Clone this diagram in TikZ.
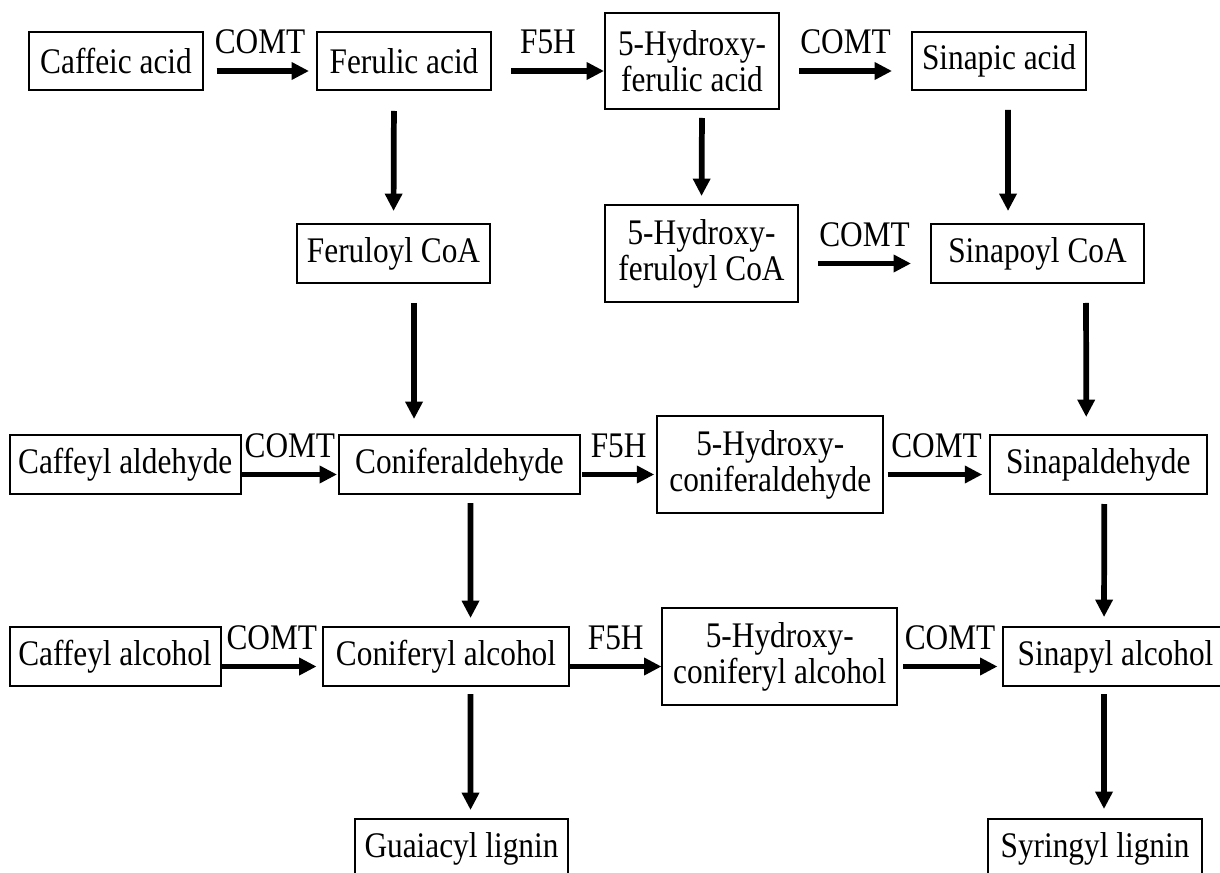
\documentclass[tikz,border=0pt]{standalone}
\usepackage{fontspec}
\setmainfont{Liberation Serif}[FakeStretch=0.87]
\usetikzlibrary{arrows.meta}

\tikzset{
  box/.style n args={2}{draw, line width=1.5pt, inner sep=0pt, align=center,
    minimum width=#1, minimum height=#2, font=\fontsize{27}{27}\selectfont},
  arr/.style={line width=4.3pt, -{Triangle[length=13pt,width=12.5pt]}},
  lbl/.style={midway, anchor=base, yshift=13pt, inner sep=0pt, font=\fontsize{27}{27}\selectfont}
}

\begin{document}
\begin{tikzpicture}[x=0.75pt,y=0.75pt,yscale=-1,xscale=1]
\useasboundingbox (0,0) rectangle (1220,873);

% Acids
\node[box={130.5pt}{43.5pt}] (caffacid) at (116,61) {Caffeic acid};
\node[box={130.5pt}{43.5pt}] (ferulic) at (404,61) {Ferulic acid};
\node[box={130.5pt}{72pt}] (hferulic) at (692,61) {5-Hydroxy-\\ferulic acid};
\node[box={130.5pt}{43.5pt}] (sinapic) at (999,61) {Sinapic acid};

% CoA esters
\node[box={144.75pt}{44.25pt}] (feruloyl) at (393.5,253.5) {Feruloyl CoA};
\node[box={144.75pt}{72.75pt}] (hferuloyl) at (701.5,253.5) {5-Hydroxy-\\feruloyl CoA};
\node[box={159.75pt}{44.25pt}] (sinapoyl) at (1037.5,253.5) {Sinapoyl CoA};

% Aldehydes
\node[box={173.25pt}{44.25pt}] (caffald) at (125.25,464.5) {Caffeyl aldehyde};
\node[box={180.75pt}{44.25pt}] (conald) at (459.5,464.5) {Coniferaldehyde};
\node[box={169.5pt}{72.75pt}] (hconald) at (770.25,464.5) {5-Hydroxy-\\coniferaldehyde};
\node[box={162.75pt}{44.25pt}] (sinald) at (1098.25,464.5) {Sinapaldehyde};

% Alcohols
\node[box={158.25pt}{44.25pt}] (caffalc) at (115,656.5) {Caffeyl alcohol};
\node[box={184.5pt}{44.25pt}] (conalc) at (446,656.5) {Coniferyl alcohol};
\node[box={175.9pt}{72.75pt}] (hconalc) at (779.75,656.5) {5-Hydroxy-\\coniferyl alcohol};
\node[box={168.75pt}{44.25pt}] (sinalc) at (1115.5,656.5) {Sinapyl alcohol};

% Lignins
\node[box={159.75pt}{44.25pt}] (guaiacyl) at (461.5,848.5) {Guaiacyl lignin};
\node[box={160.5pt}{44.25pt}] (syringyl) at (1095,848.5) {Syringyl lignin};

% Horizontal arrows
\draw[arr, shorten <=9.4pt, shorten >=5.25pt] ([yshift=7.5pt]caffacid.east) -- ([yshift=7.5pt]ferulic.west) node[lbl] {COMT};
\draw[arr, shorten <=14.25pt] ([yshift=7.5pt]ferulic.east) -- ([yshift=7.5pt]hferulic.west) node[lbl] {F5H};
\draw[arr, shorten <=14.25pt, shorten >=14.25pt] ([yshift=7.5pt]hferulic.east) -- ([yshift=7.5pt]sinapic.west) node[lbl] {COMT};
\draw[arr, shorten <=14.25pt, shorten >=14.25pt] ([yshift=7.5pt]hferuloyl.east) -- ([yshift=7.5pt]sinapoyl.west) node[lbl] {COMT};
\draw[arr, shorten >=0.75pt] ([yshift=7.5pt]caffald.east) -- ([yshift=7.5pt]conald.west) node[lbl] {COMT};
\draw[arr, shorten <=0.75pt, shorten >=1.5pt] ([yshift=7.5pt]conald.east) -- ([yshift=7.5pt]hconald.west) node[lbl] {F5H};
\draw[arr, shorten <=2.6pt, shorten >=4.9pt] ([yshift=7.5pt]hconald.east) -- ([yshift=7.5pt]sinald.west) node[lbl] {COMT};
\draw[arr, shorten >=4.1pt] ([yshift=7.5pt]caffalc.east) -- ([yshift=7.5pt]conalc.west) node[lbl] {COMT};
\draw[arr] ([yshift=7.5pt]conalc.east) -- ([yshift=7.5pt]hconalc.west) node[lbl] {F5H};
\draw[arr, shorten <=4.1pt, shorten >=3.4pt] ([yshift=7.5pt]hconalc.east) -- ([yshift=7.5pt]sinalc.west) node[lbl] {COMT};

% Vertical arrows
\draw[arr, shorten <=15pt, shorten >=9pt] ([xshift=-7.5pt]ferulic.south) -- (feruloyl.north);
\draw[arr, shorten <=6pt, shorten >=6pt] ([xshift=7.5pt]hferulic.south) -- (hferuloyl.north);
\draw[arr, shorten <=14.25pt, shorten >=9pt] ([xshift=6.75pt]sinapic.south) -- ([xshift=-22.1pt]sinapoyl.north);
\draw[arr, shorten <=14.25pt, shorten >=11.25pt] ([xshift=15.4pt]feruloyl.south) -- ([xshift=-34.1pt]conald.north);
\draw[arr, shorten <=14.25pt, shorten >=12.75pt] ([xshift=36.4pt]sinapoyl.south) -- ([xshift=-9pt]sinald.north);
\draw[arr, shorten <=6pt, shorten >=6pt] ([xshift=8.25pt]conald.south) -- ([xshift=18.4pt]conalc.north);
\draw[arr, shorten <=6.75pt, shorten >=6.75pt] ([xshift=4.5pt]sinald.south) -- ([xshift=-8.6pt]sinalc.north);
\draw[arr, shorten <=5.25pt, shorten >=6pt] ([xshift=18.4pt]conalc.south) -- ([xshift=6.75pt]guaiacyl.north);
\draw[arr, shorten <=5.25pt, shorten >=6.75pt] ([xshift=-8.6pt]sinalc.south) -- ([xshift=6.75pt]syringyl.north);

\end{tikzpicture}
\end{document}
